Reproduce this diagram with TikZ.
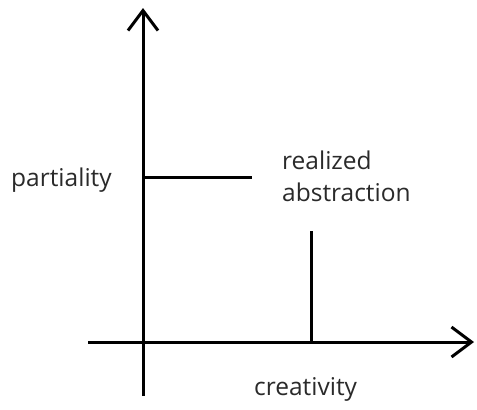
\documentclass[tikz,border=0pt]{standalone}
\usepackage{fontspec}
\setmainfont{Open Sans}
\usetikzlibrary{arrows.meta}
\definecolor{txt}{HTML}{2A2A2A}
\begin{document}
\begin{tikzpicture}[x=1pt,y=-1pt,
  axis/.style={line width=3pt,-{Straight Barb[length=20pt,width=30pt,line width=3pt]}},
  seg/.style={line width=3pt},
  lbl/.style={font=\fontsize{24.5}{29}\selectfont,text=txt,inner sep=0pt,anchor=base west}]
\useasboundingbox[fill=white] (0,0) rectangle (477,410);
\coordinate (ybot) at (143,396);
\coordinate (ytop) at (143,8);
\coordinate (xl) at (88,342);
\coordinate (xr) at (474,342);
\coordinate (h1) at (143,177);
\coordinate (h2) at (252,177);
\coordinate (v1) at (311,231);
\coordinate (v2) at (311,342);
\draw[axis] (ybot) -- (ytop);
\draw[axis] (xl) -- (xr);
\draw[seg] (h1) -- (h2);
\draw[seg] (v1) -- (v2);
\node[lbl] (part) at (11,186) {partiality};
\node[lbl] (ra1) at (282,169) {realized};
\node[lbl] (ra2) at (282,201) {abstraction};
\node[lbl] (crea) at (254,395) {creativity};
\end{tikzpicture}
\end{document}
